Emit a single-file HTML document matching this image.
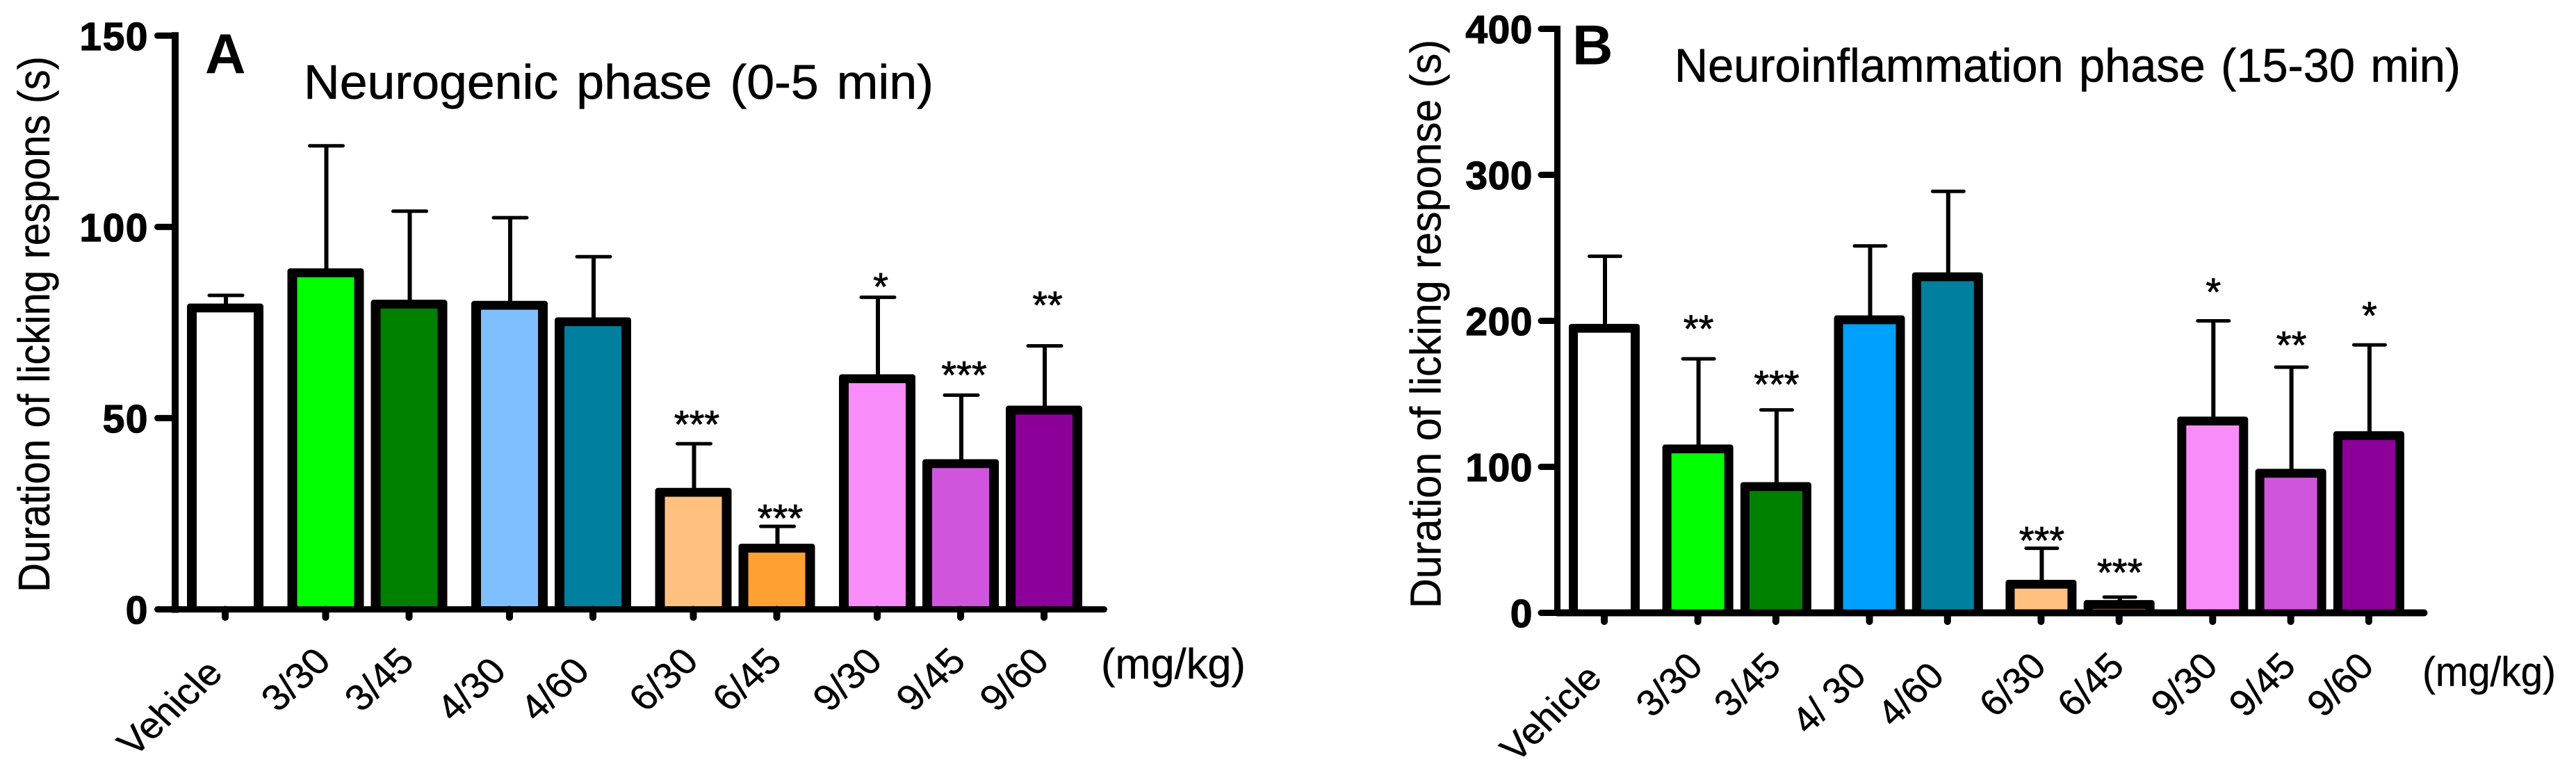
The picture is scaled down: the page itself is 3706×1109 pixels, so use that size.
<!DOCTYPE html>
<html lang="en">
<head>
<meta charset="utf-8">
<title>Duration of licking response: neurogenic and neuroinflammation phases</title>
<style>
  html, body { margin: 0; padding: 0; background: #fff; }
  svg { display: block; }
  text { font-family: "Liberation Sans", Arial, sans-serif; fill: #000; }
</style>
</head>
<body>
<svg id="figure" xmlns="http://www.w3.org/2000/svg" width="3706" height="1109" viewBox="0 0 3706 1109"></svg>
<script>
// ---- Panel A data ----
const categoriesA = ['Vehicle', '3/30', '3/45', '4/30', '4/60', '6/30', '6/45', '9/30', '9/45', '9/60'];
const doseGroupsA = [0, 1, 1, 2, 2, 3, 3, 4, 4, 4];
const meansA = [78.8, 88, 79.8, 79.5, 75.2, 30.6, 16, 60.3, 38.1, 52.1];
const errorsA = [3.3, 33.2, 24.3, 22.9, 17, 12.7, 5.7, 21.3, 17.9, 16.8];
const sigLabelsA = ['', '', '', '', '', '***', '***', '*', '***', '**'];
const sigLevelsA = [null, null, null, null, null, 50.2, 25.6, 86.2, 63.1, 81.3];
const yTicksA = [0, 50, 100, 150];

// ---- Panel B data ----
const categoriesB = ['Vehicle', '3/30', '3/45', '4/ 30', '4/60', '6/30', '6/45', '9/30', '9/45', '9/60'];
const doseGroupsB = [0, 1, 1, 2, 2, 3, 3, 4, 4, 4];
const meansB = [194.9, 112.3, 86.5, 200.7, 230.2, 19.6, 5.7, 131.4, 95.6, 121.4];
const errorsB = [49.3, 61.7, 52.5, 50.6, 58.5, 24.6, 5.1, 68.6, 72.7, 62.1];
const sigLabelsB = ['', '**', '***', '', '', '***', '***', '*', '**', '*'];
const sigLevelsB = [null, 199.3, 161.2, null, null, 54.3, 32.4, 224.6, 188.2, 208.4];
const yTicksB = [0, 100, 200, 300, 400];

const fillsA = ['#ffffff', '#00ff00', '#008000', '#7fbfff', '#007f9f', '#ffc080', '#ffa033', '#f88cf8', '#d055dd', '#8c0099'];
const fillsB = ['#ffffff', '#00ff00', '#008000', '#00a0ff', '#007f9f', '#ffc080', '#ffa033', '#f88cf8', '#d055dd', '#8c0099'];

const SVG_NS = 'http://www.w3.org/2000/svg';
const figure = document.getElementById('figure');

function mk(parent, tag, attrs, content) {
  const el = document.createElementNS(SVG_NS, tag);
  for (const key in attrs) {
    el.setAttribute(key, attrs[key]);
  }
  if (content !== undefined) {
    el.textContent = content;
  }
  parent.appendChild(el);
  return el;
}

function slug(s) {
  return s.replace(/[^a-zA-Z0-9]+/g, '-').toLowerCase();
}

function drawPanel(cfg) {
  const panel = mk(figure, 'g', {});
  
  

  const yScale = v => cfg.y0 - v * (cfg.y0 - cfg.yTop) / cfg.yMax;
  const xScale = i => cfg.x0 + cfg.step * i + cfg.gap * cfg.groups[i];

  // error bars (drawn first so the bar outline covers the stem base)
  cfg.means.forEach((m, i) => {
    const cx = xScale(i) + 1;
    const top = yScale(m + cfg.errors[i]);
    const err = mk(panel, 'g', { stroke: '#000', fill: 'none' });
    
    
    mk(err, 'line', { x1: cx, x2: cx, y1: top, y2: yScale(m), 'stroke-width': 6 });
    mk(err, 'line', { x1: cx - cfg.capW / 2, x2: cx + cfg.capW / 2, y1: top, y2: top, 'stroke-width': 5, 'stroke-linecap': 'round' });
  });

  // bars: black outer block with a lightly rounded top, colour fill inset
  cfg.means.forEach((m, i) => {
    const cx = xScale(i);
    const top = yScale(m);
    const bar = mk(panel, 'g', {});
    
    
    mk(bar, 'rect', {
      x: cx - cfg.barOuter / 2,
      y: top - 6.35,
      width: cfg.barOuter,
      height: cfg.y0 - top + 6.35,
      rx: 4,
      fill: '#000'
    });
    mk(bar, 'rect', {
      x: cx - cfg.barInner / 2,
      y: top + 6.35,
      width: cfg.barInner,
      height: Math.max(0, cfg.y0 - top - 6.35),
      fill: cfg.fills[i]
    });
  });

  // y axis line
  const yAxis = mk(panel, 'line', { x1: cfg.axisX, x2: cfg.axisX, y1: cfg.yTop - cfg.axisW / 2, y2: cfg.y0 + cfg.axisW / 2, stroke: '#000', 'stroke-width': cfg.axisW });
  
  

  // x axis line
  const xAxis = mk(panel, 'line', { x1: cfg.axisX, x2: cfg.xEnd, y1: cfg.y0, y2: cfg.y0, stroke: '#000', 'stroke-width': cfg.baseW, 'stroke-linecap': 'round' });
  
  

  // y ticks and labels
  cfg.yTicks.forEach(t => {
    const py = yScale(t);
    const tick = mk(panel, 'line', { x1: cfg.tickLeft, x2: cfg.axisX, y1: py, y2: py, stroke: '#000', 'stroke-width': 9, 'stroke-linecap': 'round' });
    
    
    const label = mk(panel, 'text', {
      x: cfg.tickLabelRight,
      y: py + 20.5,
      'text-anchor': 'end',
      'font-size': 57,
      'font-weight': 'bold',
      'letter-spacing': cfg.tickSpacing,
      stroke: '#000',
      'stroke-width': 1.2
    }, String(t));
    
    
  });

  // x ticks and rotated labels
  cfg.categories.forEach((c, i) => {
    const px = xScale(i);
    const tick = mk(panel, 'line', { x1: px, x2: px, y1: cfg.y0, y2: cfg.tickBottom - 5, stroke: '#000', 'stroke-width': 10, 'stroke-linecap': 'round' });
    
    
    const shifted = c[0] === 'V' ? [-11, 17] : c[0] === '4' ? [-12, 14] : [0, 0];
    const lx = px + 10 + shifted[0];
    const ly = cfg.labelBaseline + shifted[1];
    const label = mk(panel, 'text', {
      'text-anchor': 'end',
      'font-size': cfg.labelSize,
      stroke: '#000',
      'stroke-width': 0.5,
      transform: 'translate(' + lx + ' ' + ly + ') scale(' + cfg.labelScale + ') rotate(-45)'
    }, c);
    
    
  });

  // significance stars
  cfg.sigLabels.forEach((s, i) => {
    if (!s) return;
    const star = mk(panel, 'text', {
      x: xScale(i) + cfg.sigDx,
      y: yScale(cfg.sigLevels[i]) + 29,
      'text-anchor': 'middle',
      'font-size': 56,
      stroke: '#000',
      'stroke-width': 0.8
    }, s);
    
    
  });

  // panel letter
  const letter = mk(panel, 'text', {
    x: cfg.letterX,
    y: cfg.letterY,
    'font-size': 81,
    'font-weight': 'bold'
  }, cfg.letter);
  
  

  // title
  const title = mk(panel, 'text', {
    x: cfg.titleX,
    y: cfg.titleY,
    'font-size': cfg.titleSize,
    'word-spacing': cfg.titleWordSpacing,
    stroke: '#000',
    'stroke-width': 0.6,
    textLength: cfg.titleW,
    lengthAdjust: 'spacingAndGlyphs'
  }, cfg.title);
  
  

  // y axis title
  const yTitle = mk(panel, 'text', {
    transform: 'translate(' + cfg.yTitleX + ' ' + cfg.yTitleY + ') rotate(-90)',
    'font-size': cfg.yTitleSize,
    stroke: '#000',
    'stroke-width': 0.4,
    textLength: cfg.yTitleW,
    lengthAdjust: 'spacingAndGlyphs'
  }, cfg.yTitle);
  
  

  // unit label
  const unit = mk(panel, 'text', {
    x: cfg.unitX,
    y: cfg.unitY,
    'font-size': cfg.unitSize,
    stroke: '#000',
    'stroke-width': 0.4,
    textLength: cfg.unitW,
    lengthAdjust: 'spacingAndGlyphs'
  }, '(mg/kg)');
  
  
}

drawPanel({
  id: 'a', letter: 'A', title: 'Neurogenic phase (0-5 min)', yTitle: 'Duration of licking respons (s)',
  categories: categoriesA, groups: doseGroupsA, means: meansA, errors: errorsA,
  sigLabels: sigLabelsA, sigLevels: sigLevelsA, yTicks: yTicksA, fills: fillsA,
  yMax: 150, y0: 876.5, yTop: 51.3, x0: 324, step: 120, gap: 24.5,
  barOuter: 110, barInner: 82, capW: 48, sigDx: 5,
  axisX: 252, axisW: 10, baseW: 9, xEnd: 1588.5, tickLeft: 226.5, tickLabelRight: 214, tickSpacing: 1.5,
  tickBottom: 893, labelBaseline: 954, labelSize: 55, labelScale: '1.04 0.95',
  letterX: 295, letterY: 105, titleX: 437, titleY: 142, titleSize: 70, titleWordSpacing: 6, titleW: 906,
  yTitleX: 71, yTitleY: 852, yTitleSize: 64, yTitleW: 771,
  unitX: 1584, unitY: 976, unitSize: 61, unitW: 208
});

drawPanel({
  id: 'b', letter: 'B', title: 'Neuroinflammation phase (15-30 min)', yTitle: 'Duration of licking response (s)',
  categories: categoriesB, groups: doseGroupsB, means: meansB, errors: errorsB,
  sigLabels: sigLabelsB, sigLevels: sigLevelsB, yTicks: yTicksB, fills: fillsB,
  yMax: 400, y0: 881.5, yTop: 41.5, x0: 2308, step: 112.3, gap: 22.3,
  barOuter: 102, barInner: 76, capW: 45, sigDx: 1,
  axisX: 2240.5, axisW: 9, baseW: 10, xEnd: 3487.5, tickLeft: 2217, tickLabelRight: 2205, tickSpacing: 0.5,
  tickBottom: 899, labelBaseline: 961, labelSize: 54, labelScale: '1.02 0.98',
  letterX: 2262, letterY: 92.5, titleX: 2409, titleY: 117.5, titleSize: 68, titleWordSpacing: 4, titleW: 1131,
  yTitleX: 2072.5, yTitleY: 875, yTitleSize: 62, yTitleW: 818,
  unitX: 3485, unitY: 986.5, unitSize: 59, unitW: 192
});
</script>
</body>
</html>
